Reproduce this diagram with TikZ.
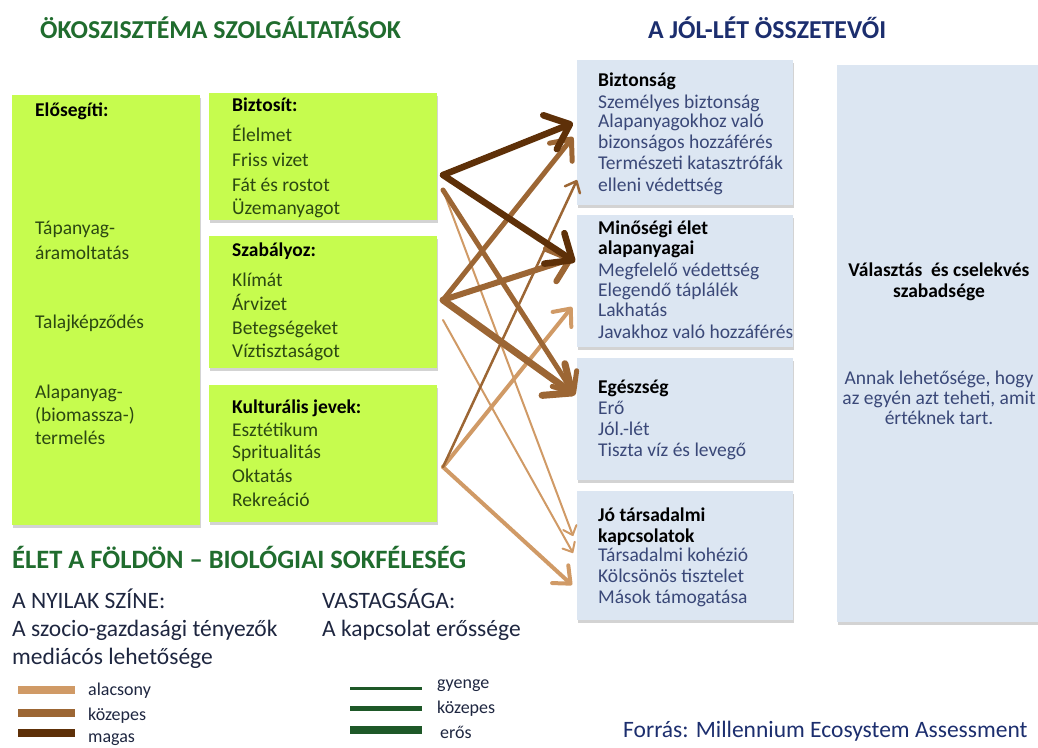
\documentclass[tikz,border=0pt]{standalone}
\usepackage{fontspec}
\setmainfont{Carlito}
\usetikzlibrary{arrows.meta,shadows}
\definecolor{limefill}{RGB}{198,252,78}
\definecolor{palefill}{RGB}{220,230,242}
\definecolor{hgreen}{RGB}{32,108,46}
\definecolor{hnavy}{RGB}{28,46,110}
\definecolor{bdark}{RGB}{94,48,8}
\definecolor{bmed}{RGB}{156,102,52}
\definecolor{blight}{RGB}{208,154,102}
\definecolor{lgreen}{RGB}{30,88,40}
\definecolor{gtext}{RGB}{44,72,18}
\definecolor{btext}{RGB}{58,72,120}
\definecolor{ltext}{RGB}{30,38,64}
\newcommand{\fsz}[1]{\fontsize{#1}{#1}\selectfont}
\begin{document}
\begin{tikzpicture}[x=1pt,y=-1pt,
  gbox/.style={fill=limefill, anchor=north west, inner sep=0pt, outer sep=0pt,
    drop shadow={shadow xshift=1pt, shadow yshift=-2.5pt, opacity=0.35}},
  pbox/.style={fill=palefill, anchor=north west, inner sep=0pt, outer sep=0pt,
    drop shadow={shadow xshift=1pt, shadow yshift=-2.5pt, opacity=0.35}},
  gt/.style={anchor=base west, inner sep=0pt, text=gtext, font=\fsz{19.5}},
  gtt/.style={anchor=base west, inner sep=0pt, text=black, font=\fsz{19.5}\bfseries},
  bt/.style={anchor=base west, inner sep=0pt, text=btext, font=\fsz{19.5}},
  btt/.style={anchor=base west, inner sep=0pt, text=black, font=\fsz{19.5}\bfseries},
  ct/.style={anchor=base, inner sep=0pt, text=btext, font=\fsz{19.5}},
  ctt/.style={anchor=base, inner sep=0pt, text=black, font=\fsz{19.5}\bfseries},
  head/.style={anchor=base west, inner sep=0pt, font=\fsz{25.8}\bfseries},
  lt/.style={anchor=base west, inner sep=0pt, text=ltext, font=\fsz{23.5}},
  leg/.style={anchor=base west, inner sep=0pt, text=ltext, font=\fsz{18}},
  conn/.style={line cap=round, line join=round},
  tipbarb/.style={-{Straight Barb[round, length=2pt 3, width=4pt 5]}},
  arrA/.style={conn, tipbarb, draw=bdark, line width=6.5pt},
  arrB/.style={conn, tipbarb, draw=bmed},
  arrC/.style={conn, tipbarb, draw=blight}
]
\useasboundingbox (0,0) rectangle (1038,747);

% headings
\node[head, text=hgreen] (h1) at (40,38) {ÖKOSZISZTÉMA SZOLGÁLTATÁSOK};
\node[head, text=hnavy] (h2) at (648,38) {A JÓL-LÉT ÖSSZETEVŐI};

% green boxes
\node[gbox, minimum width=188pt, minimum height=430pt] (elo) at (12,95) {};
\node[gbox, minimum width=228pt, minimum height=127pt] (bizt) at (209,93) {};
\node[gbox, minimum width=228pt, minimum height=132pt] (szab) at (209,236) {};
\node[gbox, minimum width=228pt, minimum height=137pt] (kult) at (209,385) {};

% pale boxes
\node[pbox, minimum width=216pt, minimum height=145pt] (biztonsag) at (577,60) {};
\node[pbox, minimum width=216pt, minimum height=132pt] (minoseg) at (577,215) {};
\node[pbox, minimum width=216pt, minimum height=122pt] (egesz) at (577,358) {};
\node[pbox, minimum width=216pt, minimum height=129pt] (tars) at (577,491) {};
\node[pbox, minimum width=215pt, minimum height=557pt] (szabad) at (837,65) {};

% green box texts
\node[gtt] (e0) at (35,116) {Elősegíti:};
\node[gt] (e1) at (35,234) {Tápanyag-};
\node[gt] (e2) at (35,259) {áramoltatás};
\node[gt] (e3) at (35,328) {Talajképződés};
\node[gt] (e4) at (35,398) {Alapanyag-};
\node[gt] (e5) at (35,421) {(biomassza-)};
\node[gt] (e6) at (35,444) {termelés};

\node[gtt] (b0) at (232,111) {Biztosít:};
\node[gt] (b1) at (232,141) {Élelmet};
\node[gt] (b2) at (232,166) {Friss vizet};
\node[gt] (b3) at (232,191) {Fát és rostot};
\node[gt] (b4) at (232,214) {Üzemanyagot};

\node[gtt] (s0) at (232,256) {Szabályoz:};
\node[gt] (s1) at (232,286) {Klímát};
\node[gt] (s2) at (232,310) {Árvizet};
\node[gt] (s3) at (232,334) {Betegségeket};
\node[gt] (s4) at (232,357) {Víztisztaságot};

\node[gtt] (k0) at (232,413) {Kulturális jevek:};
\node[gt] (k1) at (232,436) {Esztétikum};
\node[gt] (k2) at (232,458) {Spritualitás};
\node[gt] (k3) at (232,482) {Oktatás};
\node[gt] (k4) at (232,506) {Rekreáció};

% pale box texts
\node[btt] (r10) at (598,86) {Biztonság};
\node[bt] (r11) at (598,108) {Személyes biztonság};
\node[bt] (r12) at (598,127) {Alapanyagokhoz való};
\node[bt] (r13) at (598,148) {bizonságos hozzáférés};
\node[bt] (r14) at (598,169) {Természeti katasztrófák};
\node[bt] (r15) at (598,191) {elleni védettség};

\node[btt] (r20) at (598,234) {Minőségi élet};
\node[btt] (r21) at (598,254) {alapanyagai};
\node[bt] (r22) at (598,276) {Megfelelő védettség};
\node[bt] (r23) at (598,296) {Elegendő táplálék};
\node[bt] (r24) at (598,316) {Lakhatás};
\node[bt] (r25) at (598,338) {Javakhoz való hozzáférés};

\node[btt] (r30) at (598,393) {Egészség};
\node[bt] (r31) at (598,414) {Erő};
\node[bt] (r32) at (598,435) {Jól.-lét};
\node[bt] (r33) at (598,456) {Tiszta víz és levegő};

\node[btt] (r40) at (598,521) {Jó társadalmi};
\node[btt] (r41) at (598,542) {kapcsolatok};
\node[bt] (r42) at (598,561) {Társadalmi kohézió};
\node[bt] (r43) at (598,582) {Kölcsönös tisztelet};
\node[bt] (r44) at (598,603) {Mások támogatása};

\node[ctt] (f0) at (939,276) {Választás\ \ és cselekvés};
\node[ctt] (f1) at (939,297) {szabadsége};
\node[ct] (f2) at (939,384) {Annak lehetősége, hogy};
\node[ct] (f3) at (939,404) {az egyén azt teheti, amit};
\node[ct] (f4) at (939,424) {értéknek tart.};

% arrow endpoints
\coordinate (sA) at (443,175);
\coordinate (sA2) at (443,190);
\coordinate (sB) at (443,300);
\coordinate (sB2) at (443,320);
\coordinate (sC) at (443,467);
\coordinate (tA1) at (573,123);
\coordinate (tA2) at (575,262);
\coordinate (tA3) at (575,395);
\coordinate (tA4) at (573,536);
\coordinate (tB1) at (573,137);
\coordinate (tB2) at (573,258);
\coordinate (tB3) at (575,395);
\coordinate (tB4) at (573,553);
\coordinate (tC1) at (577,180);
\coordinate (tC2) at (572,307);
\coordinate (tC4) at (572,585);

% light arrows
\draw[arrC, line width=2pt] (sA2) -- (tA4);
\draw[arrC, line width=2pt] (sB2) -- (tB4);
\draw[arrC, line width=4pt] (sC) -- (tC2);
\draw[arrC, line width=4pt] (sC) -- (tC4);
% medium arrows
\draw[arrB, line width=2.5pt] (sC) -- (tC1);
\draw[arrB, line width=5pt] (sA2) -- (tA3);
\draw[arrB, line width=5pt] (sB) -- (tB1);
\draw[arrB, line width=6pt] (sB) -- (tB2);
\draw[arrB, line width=7pt] (sB) -- (tB3);
% dark arrows
\draw[arrA] (sA) -- (tA1);
\draw[arrA] (sA) -- (tA2);

% legend texts
\node[head, text=hgreen, font=\fsz{26.5}\bfseries] (h3) at (12,568) {ÉLET A FÖLDÖN – BIOLÓGIAI SOKFÉLESÉG};
\node[lt] (l1) at (12,608) {A NYILAK SZÍNE:};
\node[lt] (l2) at (12,636) {A szocio-gazdasági tényezők};
\node[lt] (l3) at (12,664) {mediácós lehetősége};
\node[lt] (l4) at (322,608) {VASTAGSÁGA:};
\node[lt] (l5) at (322,636) {A kapcsolat erőssége};

\coordinate (c1a) at (18,690); \coordinate (c1b) at (75,690);
\coordinate (c2a) at (18,713); \coordinate (c2b) at (75,713);
\coordinate (c3a) at (18,733); \coordinate (c3b) at (75,733);
\draw[blight, line width=8pt] (c1a) -- (c1b);
\draw[bmed, line width=8pt] (c2a) -- (c2b);
\draw[bdark, line width=8pt] (c3a) -- (c3b);
\node[leg] (g1) at (88,695) {alacsony};
\node[leg] (g2) at (88,720) {közepes};
\node[leg] (g3) at (88,742) {magas};

\coordinate (d1a) at (350,688); \coordinate (d1b) at (422,688);
\coordinate (d2a) at (350,708); \coordinate (d2b) at (422,708);
\coordinate (d3a) at (350,730); \coordinate (d3b) at (422,730);
\draw[lgreen, line width=3pt] (d1a) -- (d1b);
\draw[lgreen, line width=5pt] (d2a) -- (d2b);
\draw[lgreen, line width=8pt] (d3a) -- (d3b);
\node[leg] (w1) at (437,688) {gyenge};
\node[leg] (w2) at (437,713) {közepes};
\node[leg] (w3) at (440,738) {erős};

\node[lt, text=hnavy] (src) at (623,737) {Forrás: Millennium Ecosystem Assessment};
\end{tikzpicture}
\end{document}
